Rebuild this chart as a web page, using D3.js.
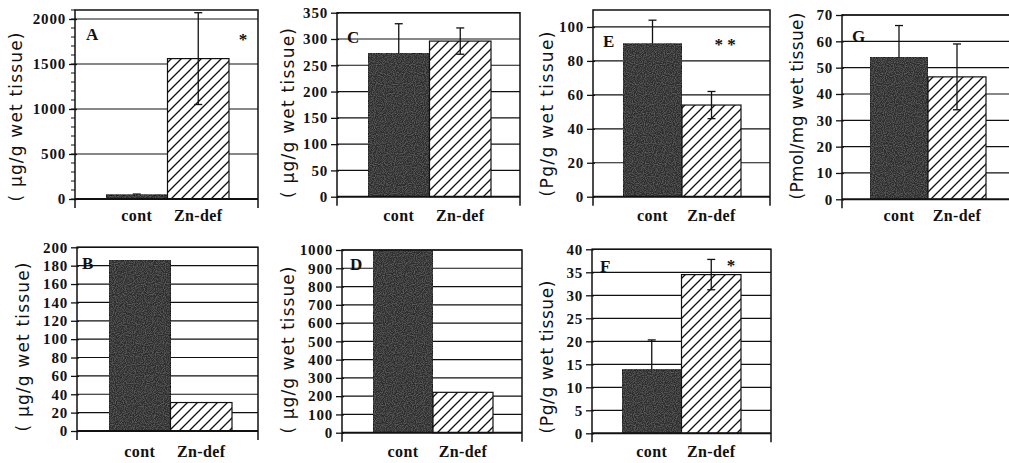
<!DOCTYPE html>
<html>
<head>
<meta charset="utf-8">
<script src="https://cdn.jsdelivr.net/npm/d3@7"></script>
<style>
  body { margin: 0; background: #fff; }
</style>
</head>
<body>
<div id="chart"></div>
<script>
// values, one entry per panel
var groups = ['cont', 'Zn-def'];
var panelIds = ['A', 'B', 'C', 'D', 'E', 'F', 'G'];
var contMean = [45, 186, 273, 1000, 90, 13.8, 54];
var contErr = [10, 0, 56, 0, 14, 6.5, 12];
var znMean = [1560, 31, 296, 221, 54, 34.5, 46.5];
var znErr = [510, 0, 25, 0, 8, 3.3, 12.5];
var axisMax = [2100, 200, 350, 1000, 110, 40, 70];
var tickStep = [500, 20, 50, 100, 20, 5, 10];
var minorStep = [100, 0, 0, 0, 0, 0, 0];
var yTitles = ['( \u03bcg/g wet tissue)', '( \u03bcg/g wet tissue)', '( \u03bcg/g wet tissue)',
    '( \u03bcg/g wet tissue)', '(Pg/g wet tissue)', '(Pg/g wet tissue)', '(Pmol/mg wet tissue)'];
var stars = ['*', '', '', '', '* *', '*', ''];

// where each panel sits on the page
var layout = {
    A: {x0: 75, x1: 258, top: 10, zero: 199, barL: 106, barR: 229, tx: 16, ty: 117, tl: 169, lab: 221, tag: [86, 40], star: [243, 45]},
    C: {x0: 337, x1: 520, top: 12.7, zero: 196.7, barL: 368, barR: 491, tx: 288, ty: 113, tl: 170, lab: 221, tag: [347, 43]},
    E: {x0: 593, x1: 770, top: 10, zero: 196.7, barL: 623, barR: 741, tx: 547, ty: 114, tl: 165, lab: 221, tag: [603, 47], star: [725, 50]},
    G: {x0: 842, x1: 1012, top: 15, zero: 199.3, barL: 870, barR: 986, tx: 797, ty: 106, tl: 187, lab: 221, tag: [852, 42]},
    B: {x0: 77, x1: 258, top: 247.3, zero: 431, barL: 109, barR: 232, tx: 23, ty: 347, tl: 169, lab: 457, tag: [82, 269]},
    D: {x0: 342, x1: 522, top: 250, zero: 432.7, barL: 373, barR: 493, tx: 288, ty: 350, tl: 167, lab: 457, tag: [350, 270]},
    F: {x0: 592, x1: 771, top: 249.3, zero: 433.3, barL: 622, barR: 741, tx: 547, ty: 357, tl: 153, lab: 457, tag: [600, 272], star: [731, 271]}
};

var serif = 'Liberation Serif';

var svg = d3.select('#chart')
    .append('svg')
    .attr('width', 1009)
    .attr('height', 463);

var defs = svg.append('defs');

// diagonal hatch for the Zn-def bars
var hatch = defs.append('pattern')
    .attr('id', 'hatch')
    .attr('patternUnits', 'userSpaceOnUse')
    .attr('width', 10)
    .attr('height', 10);
hatch.append('rect').attr('width', 10).attr('height', 10).attr('fill', '#fff');
hatch.append('path')
    .attr('d', 'M-1,1 l2,-2 M0,10 l10,-10 M9,11 l2,-2')
    .attr('stroke', '#111')
    .attr('stroke-width', 1.3);

// grainy dark fill for the control bars
var grain = defs.append('filter').attr('id', 'grain').attr('x', 0).attr('y', 0).attr('width', 1).attr('height', 1);
grain.append('feTurbulence').attr('type', 'fractalNoise').attr('baseFrequency', 0.9).attr('numOctaves', 1).attr('result', 'noise');
grain.append('feColorMatrix').attr('in', 'noise').attr('type', 'matrix')
    .attr('values', '0 0 0 0 0.5  0 0 0 0 0.5  0 0 0 0 0.5  0.5 0 0 0 -0.2').attr('result', 'speck');
grain.append('feComposite').attr('in', 'speck').attr('in2', 'SourceGraphic').attr('operator', 'in').attr('result', 'sp');
grain.append('feMerge').call(function (m) {
    m.append('feMergeNode').attr('in', 'SourceGraphic');
    m.append('feMergeNode').attr('in', 'sp');
});

panelIds.forEach(function (id, i) {
    drawPanel(id, i, layout[id]);
});

function drawErrors(g, rows, x, y) {
    var cx = function (d) { return x(d.grp) + x.bandwidth() / 2; };
    var eb = g.selectAll(null)
        .data(rows.filter(function (d) { return d.e > 0; }))
        .enter()
        .append('g')
        .attr('stroke', '#111')
        .attr('stroke-width', 1.3);
    eb.append('line')
        .attr('x1', cx).attr('x2', cx)
        .attr('y1', function (d) { return y(d.v + d.e); })
        .attr('y2', function (d) { return y(d.v - d.e); });
    [1, -1].forEach(function (s) {
        eb.append('line')
            .attr('x1', function (d) { return cx(d) - 4; })
            .attr('x2', function (d) { return cx(d) + 4; })
            .attr('y1', function (d) { return y(d.v + s * d.e); })
            .attr('y2', function (d) { return y(d.v + s * d.e); });
    });
}

function drawPanel(id, i, L) {

    var g = svg.append('g').attr('class', 'panel');

    var y = d3.scaleLinear()
        .domain([0, axisMax[i]])
        .range([L.zero, L.top]);

    var x = d3.scaleBand()
        .domain(groups)
        .range([L.barL, L.barR])
        .padding(0);

    var ticks = d3.range(0, axisMax[i] + 1e-9, tickStep[i]);

    // gridlines
    g.selectAll('line.grid')
        .data(ticks.filter(function (d) { return d > 0; }))
        .enter()
        .append('line')
        .attr('class', 'grid')
        .attr('x1', L.x0).attr('x2', L.x1)
        .attr('y1', function (d) { return y(d); })
        .attr('y2', function (d) { return y(d); })
        .attr('stroke', '#111')
        .attr('stroke-width', 1.2);

    var rows = [
        {grp: groups[0], v: contMean[i], e: contErr[i]},
        {grp: groups[1], v: znMean[i], e: znErr[i]}
    ];

    // control error bar goes under its dark bar, so only the upper half shows
    drawErrors(g, rows.slice(0, 1), x, y);

    g.selectAll('rect.bar')
        .data(rows)
        .enter()
        .append('rect')
        .attr('class', 'bar')
        .attr('x', function (d) { return x(d.grp); })
        .attr('width', x.bandwidth())
        .attr('y', function (d) { return y(d.v); })
        .attr('height', function (d) { return y(0) - y(d.v); })
        .attr('fill', function (d, k) { return k == 0 ? '#2e2e2e' : 'url(#hatch)'; })
        .attr('filter', function (d, k) { return k == 0 ? 'url(#grain)' : null; })
        .attr('stroke', '#111')
        .attr('stroke-width', 1.2);

    drawErrors(g, rows.slice(1), x, y);

    // frame: top, sides running a little below the zero line, heavy zero line
    g.append('path')
        .attr('d', 'M' + L.x0 + ',' + (L.zero + 9) + 'V' + L.top + 'H' + L.x1 + 'V' + (L.zero + 9))
        .attr('fill', 'none')
        .attr('stroke', '#111')
        .attr('stroke-width', 1.5);
    g.append('line')
        .attr('x1', L.x0).attr('x2', L.x1)
        .attr('y1', y(0)).attr('y2', y(0))
        .attr('stroke', '#111')
        .attr('stroke-width', 2);

    // minor ticks
    if (minorStep[i] > 0) {
        g.selectAll('line.minor')
            .data(d3.range(0, axisMax[i] + 1e-9, minorStep[i]))
            .enter()
            .append('line')
            .attr('x1', L.x0 - 4).attr('x2', L.x0)
            .attr('y1', function (d) { return y(d); })
            .attr('y2', function (d) { return y(d); })
            .attr('stroke', '#111');
    }

    // y axis
    var yAxis = d3.axisLeft(y)
        .tickValues(ticks)
        .tickFormat(d3.format('d'))
        .tickSizeInner(6)
        .tickSizeOuter(0)
        .tickPadding(3);
    var ax = g.append('g')
        .attr('transform', 'translate(' + L.x0 + ',0)')
        .call(yAxis)
        .attr('font-family', serif)
        .attr('font-size', 15)
        .attr('font-weight', 'bold');
    ax.select('.domain').remove();
    ax.selectAll('.tick line').attr('x1', 2).attr('stroke', '#111').attr('stroke-width', 1.3);
    ax.selectAll('.tick text')
        .attr('fill', '#111')
        .attr('letter-spacing', 0.8);

    // y title
    g.append('text')
        .attr('transform', 'translate(' + L.tx + ',' + L.ty + ') rotate(-90)')
        .attr('text-anchor', 'middle')
        .attr('dy', '0.35em')
        .attr('textLength', L.tl)
        .attr('lengthAdjust', 'spacing')
        .attr('font-family', 'DejaVu Sans')
        .attr('font-size', 17)
        .attr('fill', '#111')
        .text(yTitles[i]);

    // group labels
    g.selectAll('text.grp')
        .data(groups)
        .enter()
        .append('text')
        .attr('class', 'grp')
        .attr('x', function (d) { return x(d) + x.bandwidth() / 2; })
        .attr('y', L.lab)
        .attr('text-anchor', 'middle')
        .attr('font-family', serif)
        .attr('font-weight', 'bold')
        .attr('font-size', 16)
        .attr('letter-spacing', 0.4)
        .attr('fill', '#111')
        .text(function (d) { return d; });

    // panel letter and significance marks
    g.append('text')
        .attr('x', L.tag[0]).attr('y', L.tag[1])
        .attr('font-family', serif)
        .attr('font-weight', 'bold')
        .attr('font-size', 17)
        .attr('fill', '#111')
        .text(id);

    if (stars[i] != '') {
        g.append('text')
            .attr('x', L.star[0]).attr('y', L.star[1])
            .attr('text-anchor', 'middle')
            .attr('font-family', serif)
            .attr('font-weight', 'bold')
            .attr('font-size', 17)
            .attr('fill', '#111')
            .text(stars[i]);
    }
}
</script>
</body>
</html>
